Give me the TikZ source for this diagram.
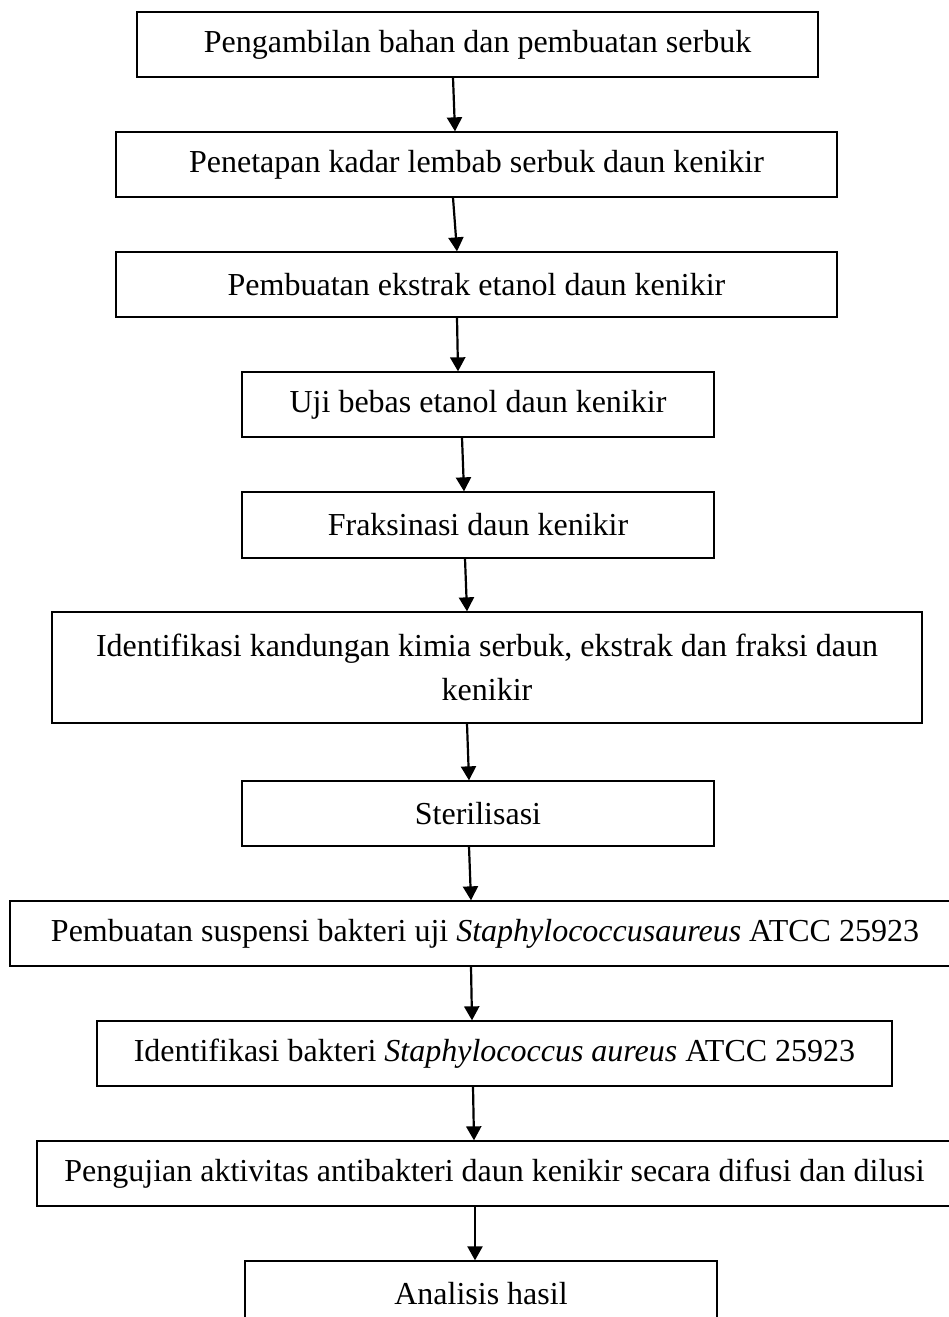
\documentclass[tikz,border=0pt]{standalone}
\usepackage{fontspec}
\setmainfont{Liberation Serif}
\usetikzlibrary{arrows.meta}

\begin{document}
\begin{tikzpicture}[
    x=1pt, y=-1pt,
    every node/.style={font=\fontsize{32}{44}\selectfont},
    stepbox/.style={draw=black, line width=1.3pt, inner sep=0pt, align=center},
    flow/.style={-{Triangle[width=15pt, length=14pt]}, line width=2.2pt},
]

% === Page frame ===
\clip (0,0) rectangle (949,1317);

% === Process steps (centre, size in px of the scan) ===
\node[stepbox, minimum width=681, minimum height=65] (ambil) at (477.5,44.5)
    {Pengambilan bahan dan pembuatan serbuk};
\node[stepbox, minimum width=721, minimum height=65] (kadar) at (476.5,164.5)
    {Penetapan kadar lembab serbuk daun kenikir};
\node[stepbox, minimum width=721, minimum height=65] (ekstrak) at (476.5,284.5)
    {Pembuatan ekstrak etanol daun kenikir};
\node[stepbox, minimum width=472, minimum height=65] (bebas) at (478,404.5)
    {Uji bebas etanol daun kenikir};
\node[stepbox, minimum width=472, minimum height=66] (fraksi) at (478,525)
    {Fraksinasi daun kenikir};
\node[stepbox, minimum width=870, minimum height=111] (kimia) at (487,667.5)
    {Identifikasi kandungan kimia serbuk, ekstrak dan fraksi daun\\kenikir};
\node[stepbox, minimum width=472, minimum height=65] (steril) at (478,813.5)
    {Sterilisasi};
\node[stepbox, minimum width=950, minimum height=65] (suspensi) at (485,933.5)
    {Pembuatan suspensi bakteri uji \textit{Staphylococcusaureus} ATCC 25923};
\node[stepbox, minimum width=795, minimum height=65] (bakteri) at (494.5,1053.5)
    {Identifikasi bakteri \textit{Staphylococcus aureus} ATCC 25923};
\node[stepbox, minimum width=915, minimum height=65] (antibak) at (494.5,1173.5)
    {Pengujian aktivitas antibakteri daun kenikir secara difusi dan dilusi};
\node[stepbox, minimum width=472, minimum height=65] (hasil) at (481,1293.5)
    {Analisis hasil};

% === Arrows (hand drawn, slightly slanted) ===
\draw[flow] ([xshift=-24.5pt]ambil.south) -- ([xshift=-21.5pt]kadar.north);
\draw[flow] ([xshift=-23.5pt]kadar.south) -- ([xshift=-19.5pt]ekstrak.north);
\draw[flow] ([xshift=-19.5pt]ekstrak.south) -- ([xshift=-20pt]bebas.north);
\draw[flow] ([xshift=-16pt]bebas.south) -- ([xshift=-14pt]fraksi.north);
\draw[flow] ([xshift=-13pt]fraksi.south) -- ([xshift=-20pt]kimia.north);
\draw[flow] ([xshift=-20pt]kimia.south) -- ([xshift=-9pt]steril.north);
\draw[flow] ([xshift=-9pt]steril.south) -- ([xshift=-14pt]suspensi.north);
\draw[flow] ([xshift=-14pt]suspensi.south) -- ([xshift=-22.5pt]bakteri.north);
\draw[flow] ([xshift=-21.5pt]bakteri.south) -- ([xshift=-20.5pt]antibak.north);
\draw[flow] ([xshift=-19.5pt]antibak.south) -- ([xshift=-6pt]hasil.north);

\end{tikzpicture}
\end{document}
